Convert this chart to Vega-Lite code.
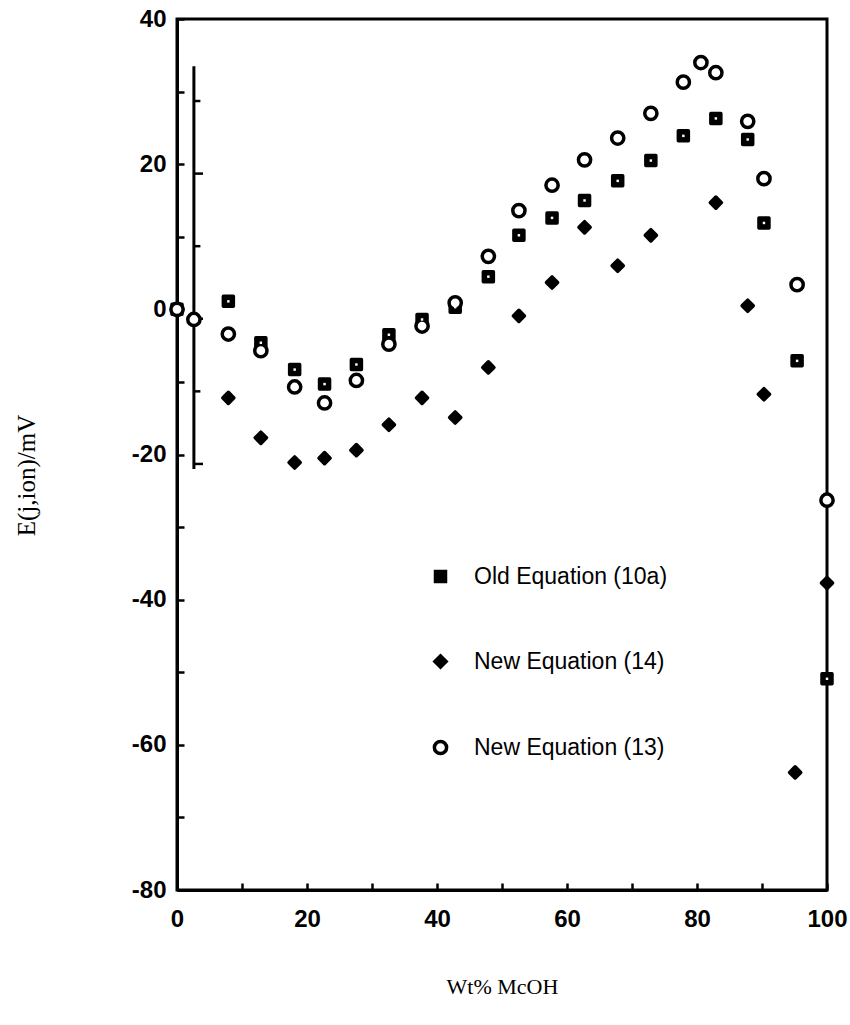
{
  "$schema": "https://vega.github.io/schema/vega-lite/v6.json",
  "width": 650,
  "height": 871,
  "autosize": {"type": "none"},
  "padding": {"left": 177, "top": 19, "right": 23, "bottom": 135},
  "background": "white",
  "datasets": {
    "pts": [
      {"series": "Old Equation (10a)", "x": 0, "y": 0},
      {"series": "Old Equation (10a)", "x": 7.9, "y": 1.1},
      {"series": "Old Equation (10a)", "x": 12.9, "y": -4.6},
      {"series": "Old Equation (10a)", "x": 18.1, "y": -8.3},
      {"series": "Old Equation (10a)", "x": 22.7, "y": -10.3},
      {"series": "Old Equation (10a)", "x": 27.6, "y": -7.6},
      {"series": "Old Equation (10a)", "x": 32.6, "y": -3.5},
      {"series": "Old Equation (10a)", "x": 37.7, "y": -1.4},
      {"series": "Old Equation (10a)", "x": 42.8, "y": 0.3},
      {"series": "Old Equation (10a)", "x": 47.9, "y": 4.5},
      {"series": "Old Equation (10a)", "x": 52.6, "y": 10.2},
      {"series": "Old Equation (10a)", "x": 57.7, "y": 12.6},
      {"series": "Old Equation (10a)", "x": 62.7, "y": 15.0},
      {"series": "Old Equation (10a)", "x": 67.8, "y": 17.7},
      {"series": "Old Equation (10a)", "x": 72.9, "y": 20.5},
      {"series": "Old Equation (10a)", "x": 77.9, "y": 23.9},
      {"series": "Old Equation (10a)", "x": 82.9, "y": 26.3},
      {"series": "Old Equation (10a)", "x": 87.8, "y": 23.4},
      {"series": "Old Equation (10a)", "x": 90.3, "y": 11.9},
      {"series": "Old Equation (10a)", "x": 95.4, "y": -7.1},
      {"series": "Old Equation (10a)", "x": 100, "y": -50.9},
      {"series": "New Equation (14)", "x": 7.9, "y": -12.2},
      {"series": "New Equation (14)", "x": 12.9, "y": -17.7},
      {"series": "New Equation (14)", "x": 18.1, "y": -21.1},
      {"series": "New Equation (14)", "x": 22.7, "y": -20.5},
      {"series": "New Equation (14)", "x": 27.6, "y": -19.4},
      {"series": "New Equation (14)", "x": 32.6, "y": -15.9},
      {"series": "New Equation (14)", "x": 37.7, "y": -12.2},
      {"series": "New Equation (14)", "x": 42.8, "y": -14.9},
      {"series": "New Equation (14)", "x": 47.9, "y": -8.0},
      {"series": "New Equation (14)", "x": 52.6, "y": -0.9},
      {"series": "New Equation (14)", "x": 57.7, "y": 3.7},
      {"series": "New Equation (14)", "x": 62.7, "y": 11.3},
      {"series": "New Equation (14)", "x": 67.8, "y": 6.0},
      {"series": "New Equation (14)", "x": 72.9, "y": 10.2},
      {"series": "New Equation (14)", "x": 82.9, "y": 14.7},
      {"series": "New Equation (14)", "x": 87.8, "y": 0.5},
      {"series": "New Equation (14)", "x": 90.3, "y": -11.7},
      {"series": "New Equation (14)", "x": 95.1, "y": -63.8},
      {"series": "New Equation (14)", "x": 100, "y": -37.7},
      {"series": "New Equation (13)", "x": 0, "y": 0},
      {"series": "New Equation (13)", "x": 2.6, "y": -1.4},
      {"series": "New Equation (13)", "x": 7.9, "y": -3.4},
      {"series": "New Equation (13)", "x": 12.9, "y": -5.7},
      {"series": "New Equation (13)", "x": 18.1, "y": -10.7},
      {"series": "New Equation (13)", "x": 22.7, "y": -12.9},
      {"series": "New Equation (13)", "x": 27.6, "y": -9.8},
      {"series": "New Equation (13)", "x": 32.6, "y": -4.8},
      {"series": "New Equation (13)", "x": 37.7, "y": -2.3},
      {"series": "New Equation (13)", "x": 42.8, "y": 0.9},
      {"series": "New Equation (13)", "x": 47.9, "y": 7.3},
      {"series": "New Equation (13)", "x": 52.6, "y": 13.6},
      {"series": "New Equation (13)", "x": 57.7, "y": 17.1},
      {"series": "New Equation (13)", "x": 62.7, "y": 20.6},
      {"series": "New Equation (13)", "x": 67.8, "y": 23.6},
      {"series": "New Equation (13)", "x": 72.9, "y": 27.0},
      {"series": "New Equation (13)", "x": 77.9, "y": 31.3},
      {"series": "New Equation (13)", "x": 80.6, "y": 34.0},
      {"series": "New Equation (13)", "x": 82.9, "y": 32.6},
      {"series": "New Equation (13)", "x": 87.8, "y": 25.9},
      {"series": "New Equation (13)", "x": 90.3, "y": 18.0},
      {"series": "New Equation (13)", "x": 95.4, "y": 3.4},
      {"series": "New Equation (13)", "x": 100, "y": -26.3}
    ],
    "strayLine": [
      {"x": 2.6, "y": 33.5, "y2": -22.0}
    ],
    "strayTicks": [
      {"x": 2.6, "x2": 3.6, "y": 28.7},
      {"x": 2.6, "x2": 4.0, "y": 18.7},
      {"x": 2.6, "x2": 3.6, "y": 8.7},
      {"x": 2.6, "x2": 4.0, "y": -1.3},
      {"x": 2.6, "x2": 3.6, "y": -11.3},
      {"x": 2.6, "x2": 4.0, "y": -21.3}
    ]
  },
  "config": {
    "view": {"stroke": "black", "strokeWidth": 3},
    "axis": {
      "grid": false,
      "labelFlush": false,
      "domainColor": "black",
      "domainWidth": 3,
      "tickColor": "black",
      "tickWidth": 2.5,
      "tickSize": -7,
      "labelFont": "Liberation Sans",
      "labelFontWeight": "bold",
      "labelFontSize": 24,
      "labelColor": "black",
      "titleFont": "Liberation Serif",
      "titleFontWeight": "normal",
      "titleFontSize": 22,
      "titleColor": "black"
    },
    "legend": {
      "orient": "none",
      "legendX": 252,
      "legendY": 546,
      "padding": 0,
      "rowPadding": 59,
      "labelFont": "Liberation Sans",
      "labelFontSize": 23,
      "labelColor": "black",
      "labelLimit": 0,
      "labelOffset": 22,
      "symbolStrokeWidth": 3.5,
      "title": null
    }
  },
  "layer": [
    {
      "data": {"name": "strayLine"},
      "mark": {"type": "rule", "color": "black", "strokeWidth": 3},
      "encoding": {
        "x": {"field": "x", "type": "quantitative"},
        "y": {"field": "y", "type": "quantitative"},
        "y2": {"field": "y2"}
      }
    },
    {
      "data": {"name": "strayTicks"},
      "mark": {"type": "rule", "color": "black", "strokeWidth": 2.5},
      "encoding": {
        "x": {"field": "x", "type": "quantitative"},
        "x2": {"field": "x2"},
        "y": {"field": "y", "type": "quantitative"}
      }
    },
    {
      "data": {"name": "pts"},
      "mark": {"type": "point", "opacity": 1, "stroke": "black", "strokeWidth": 3.5, "strokeJoin": "round"},
      "encoding": {
        "x": {
          "field": "x", "type": "quantitative",
          "scale": {"domain": [0, 100], "nice": false, "zero": false},
          "axis": {
            "title": "Wt% McOH",
            "values": [0, 10, 20, 30, 40, 50, 60, 70, 80, 90, 100],
            "labelExpr": "datum.value % 20 === 0 ? '' + datum.value : ''",
            "labelPadding": 24,
            "titleY": 86,
            "titleBaseline": "top"
          }
        },
        "y": {
          "field": "y", "type": "quantitative",
          "scale": {"domain": [-80, 40], "nice": false, "zero": false},
          "axis": {
            "title": "E(j,ion)/mV",
            "titleFontSize": 25,
            "values": [-80, -70, -60, -50, -40, -30, -20, -10, 0, 10, 20, 30, 40],
            "labelExpr": "datum.value % 20 === 0 ? '' + datum.value : ''",
            "labelPadding": 18,
            "titleX": -138,
            "titleY": 456
          }
        },
        "shape": {
          "field": "series", "type": "nominal",
          "scale": {
            "domain": ["Old Equation (10a)", "New Equation (14)", "New Equation (13)"],
            "range": ["square", "diamond", "circle"]
          },
          "legend": {
            "symbolStrokeWidth": 3.5,
            "encode": {
              "symbols": {
                "stroke": {"value": "black"},
                "strokeWidth": {"value": 3.5},
                "strokeJoin": {"value": "round"},
                "size": {"value": 120},
                "opacity": {"value": 1}
              }
            }
          }
        },
        "fill": {
          "field": "series", "type": "nominal",
          "scale": {
            "domain": ["Old Equation (10a)", "New Equation (14)", "New Equation (13)"],
            "range": ["black", "black", "white"]
          }
        },
        "size": {
          "field": "series", "type": "nominal",
          "scale": {
            "domain": ["Old Equation (10a)", "New Equation (14)", "New Equation (13)"],
            "range": [100, 150, 90]
          }
        }
      }
    },
    {
      "data": {"name": "pts"},
      "transform": [{"filter": "datum.series === 'Old Equation (10a)'"}],
      "mark": {"type": "square", "color": "white", "opacity": 1, "size": 6},
      "encoding": {
        "x": {"field": "x", "type": "quantitative"},
        "y": {"field": "y", "type": "quantitative"}
      }
    }
  ]
}
